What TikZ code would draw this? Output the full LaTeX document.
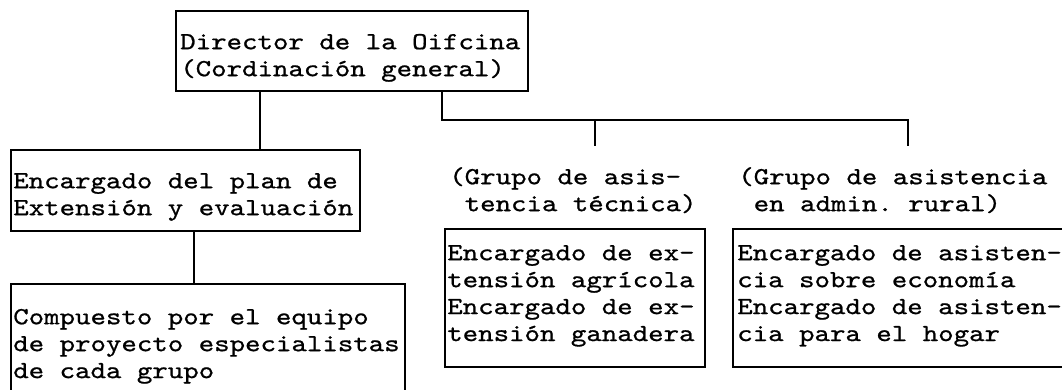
\documentclass[tikz,border=0pt]{standalone}
\usepackage{fontspec}
\newfontfamily\dm[FakeStretch=1.2, FakeBold=0.8]{lmmono10-regular.otf}
\usetikzlibrary{fit}
\frenchspacing
\begin{document}
\begin{tikzpicture}[x=0.75pt,y=-0.75pt,
  box/.style={draw, line width=0.9pt, inner sep=0pt, outer sep=0pt},
  txt/.style={font=\dm\fontsize{18.4pt}{20.2pt}\selectfont, align=left, anchor=north west, inner sep=0pt},
  link/.style={draw, line width=0.9pt}]
\useasboundingbox (0,0) rectangle (1062,389);
% boxes
\node[box, fit={(176,11) (528,91)}] (dir) {};
\node[box, fit={(11,150) (360,231)}] (enc) {};
\node[box, fit={(11,284) (405,400)}] (comp) {};
\node[box, fit={(445,229) (705,367)}] (midb) {};
\node[box, fit={(733,229) (1075,367)}] (rtb) {};
% texts (north = first baseline - strut height 18.9px)
\node[txt] (dirt) at (180,30.1) {\strut Director de la Oifcina\\(Cordinación general)};
\node[txt] (enct) at (13,169.1) {\strut Encargado del plan de\\Extensión y evaluación};
\node[txt] (compt) at (13,305.1) {\strut Compuesto por el equipo\\de proyecto especialistas\\de cada grupo};
\node[txt] (midl) at (449,165.1) {\strut (Grupo de asis-\\~tencia técnica)};
\node[txt] (rtl) at (738,165.1) {\strut (Grupo de asistencia\\~en admin.\ rural)};
\node[txt] (midt) at (447,241.1) {\strut Encargado de ex-\\tensión agrícola\\Encargado de ex-\\tensión ganadera};
\node[txt] (rtt) at (737,241.1) {\strut Encargado de asisten-\\cia sobre economía\\Encargado de asisten-\\cia para el hogar};
% connectors
\coordinate (a) at (260,0);
\coordinate (b) at (194,0);
\coordinate (bus) at (442,120);
\coordinate (tm) at (595,146);
\coordinate (tr) at (908,146);
\draw[link] (dir.south -| a) -- (enc.north -| a);
\draw[link] (enc.south -| b) -- (comp.north -| b);
\draw[link] (dir.south -| bus) -- (bus) -| (tr);
\draw[link] (tm |- bus) -- (tm);
\end{tikzpicture}
\end{document}
